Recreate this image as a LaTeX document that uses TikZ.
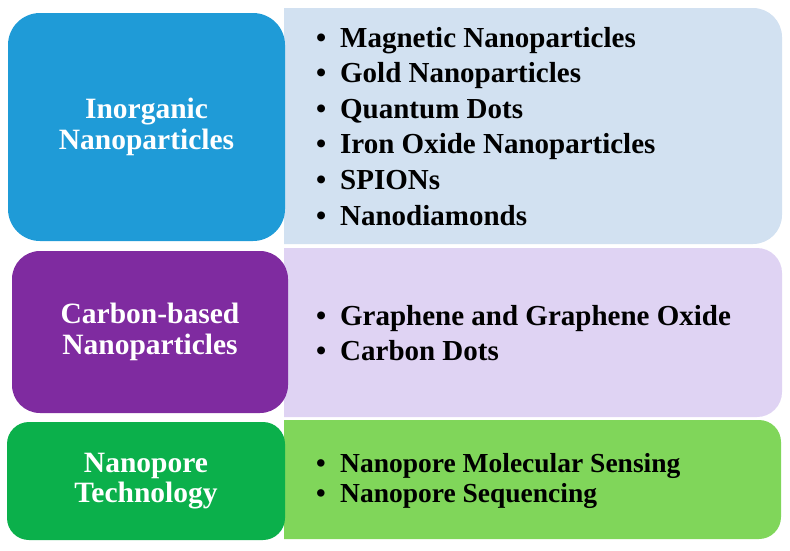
\documentclass[tikz,border=0pt]{standalone}
\usepackage{fontspec}
\setmainfont{Liberation Serif}
\usepackage{tikz}

\definecolor{inorgblue}{RGB}{31,155,215}
\definecolor{inorglight}{RGB}{210,225,241}
\definecolor{carbonpurple}{RGB}{127,43,160}
\definecolor{carbonlight}{RGB}{223,211,243}
\definecolor{poregreen}{RGB}{11,176,75}
\definecolor{porelight}{RGB}{128,214,90}

\newcommand{\bul}{\makebox[24pt][l]{\textbullet}}

\begin{document}
\begin{tikzpicture}[x=1pt,y=-1pt,
   catbox/.style={text=white,align=center,inner sep=0pt,
      font=\bfseries\fontsize{29.5}{30.5}\selectfont},
   listline/.style={anchor=base west,inner sep=0pt,
      font=\bfseries\fontsize{29}{35}\selectfont},
   smallline/.style={listline,font=\bfseries\fontsize{27.5}{30}\selectfont}]
\useasboundingbox (0,0) rectangle (790,550);

% light panels, square on the left
\begin{scope}
  \clip (284,0) rectangle (790,550);
  \fill[inorglight,rounded corners=29] (230,8) rectangle (782,244);
  \fill[carbonlight,rounded corners=25] (230,248) rectangle (782,417);
  \fill[porelight,rounded corners=22] (230,420) rectangle (781,539);
\end{scope}

% category boxes
\node[catbox,fill=inorgblue,rounded corners=32,
   minimum width=277,minimum height=228] (inorg) at (146.5,127)
   {Inorganic\\Nanoparticles};
\node[catbox,fill=carbonpurple,rounded corners=28,
   minimum width=276,minimum height=162] (carbon) at (150,332)
   {Carbon-based\\Nanoparticles};
\node[catbox,fill=poregreen,rounded corners=22,
   minimum width=278,minimum height=118] (pore) at (146,481)
   {Nanopore\\Technology};

% lists
\foreach \name [count=\i] in {Magnetic Nanoparticles,Gold Nanoparticles,
   Quantum Dots,Iron Oxide Nanoparticles,SPIONs,Nanodiamonds}
   \node[listline] (inorg-\i) at (316,{47+35.6*(\i-1)}) {\bul\name};
\foreach \name [count=\i] in {Graphene and Graphene Oxide,Carbon Dots}
   \node[listline] (carbon-\i) at (316,{325+35*(\i-1)}) {\bul\name};
\foreach \name [count=\i] in {Nanopore Molecular Sensing,Nanopore Sequencing}
   \node[smallline] (pore-\i) at (316,{472.5+29.5*(\i-1)}) {\bul\name};
\end{tikzpicture}
\end{document}
